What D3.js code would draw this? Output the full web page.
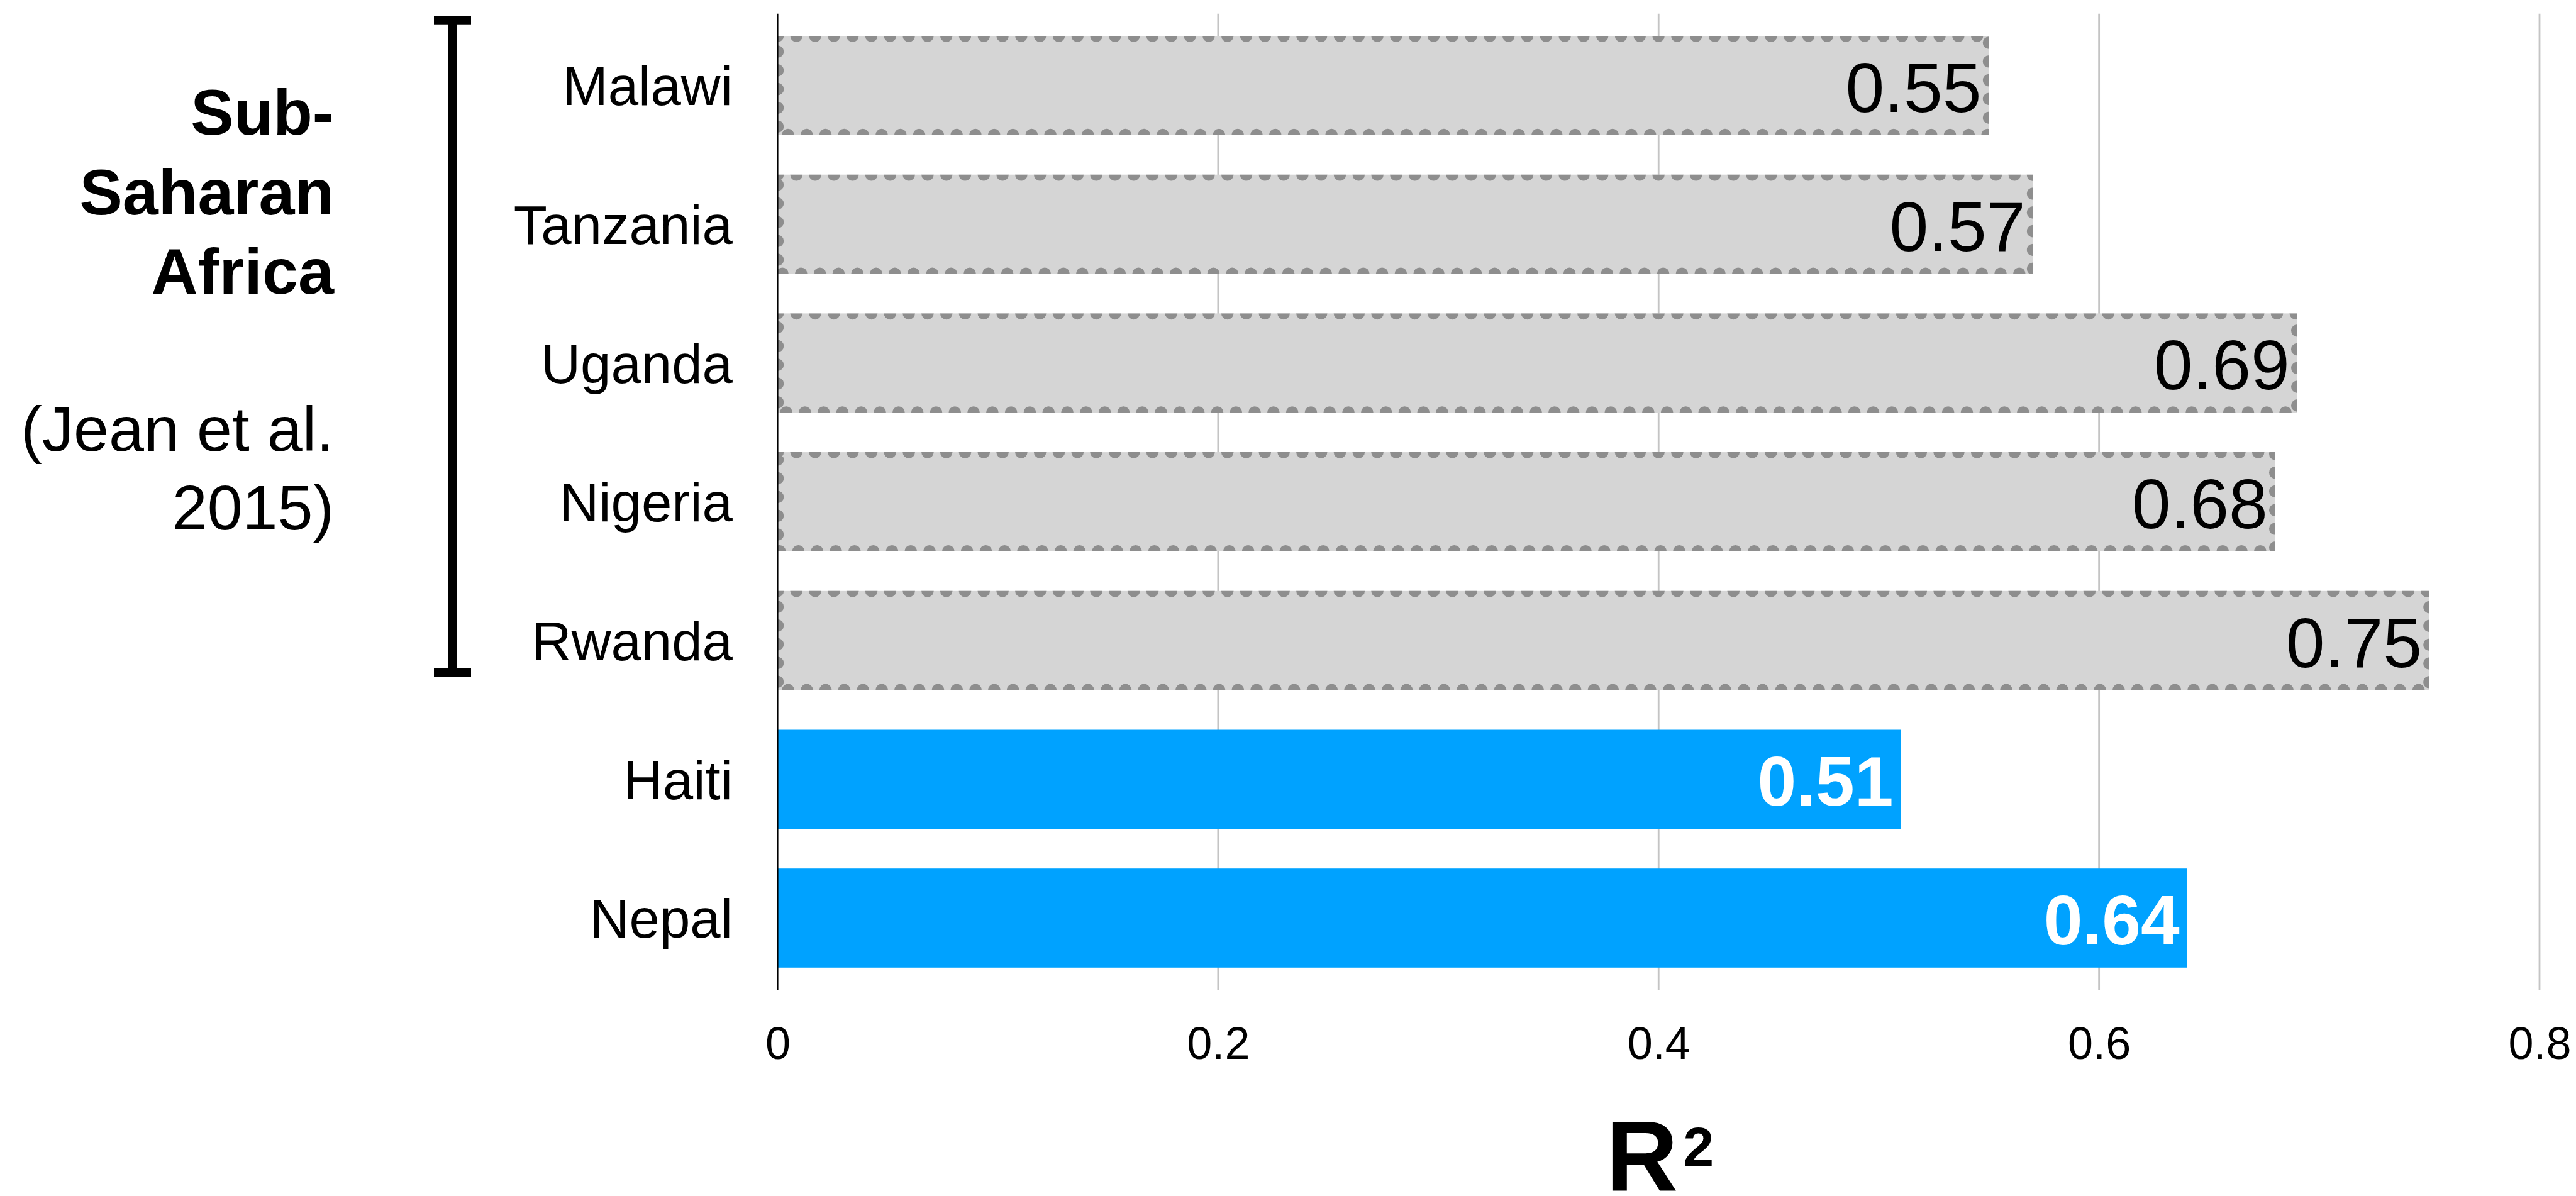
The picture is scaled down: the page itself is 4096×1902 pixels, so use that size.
<!DOCTYPE html>
<html>
<head>
<meta charset="utf-8">
<script src="https://cdn.jsdelivr.net/npm/d3@7"></script>
<style>
  html, body { margin: 0; padding: 0; background: #ffffff; }
  svg { display: block; }
  text { font-family: "Liberation Sans", Arial, Helvetica, sans-serif; }
</style>
</head>
<body>
<script>
// ---- data ----
const categories = ["Malawi", "Tanzania", "Uganda", "Nigeria", "Rwanda", "Haiti", "Nepal"];
const values = [0.55, 0.57, 0.69, 0.68, 0.75, 0.51, 0.64];
const sources = ["prior", "prior", "prior", "prior", "prior", "ours", "ours"];
const valueLabels = ["0.55", "0.57", "0.69", "0.68", "0.75", "0.51", "0.64"];
const xTicks = [0, 0.2, 0.4, 0.6, 0.8];
const groupTitle = ["Sub-", "Saharan", "Africa"];
const groupNote = ["(Jean et al.", "2015)"];
const axisTitleBase = "R";
const axisTitleSup = "2";

// ---- layout ----
const W = 4096, H = 1902;
const plotLeft = 1236.5, plotRight = 4038, plotTop = 21.7, plotBottom = 1574.1;

const svg = d3.select("body").append("svg").attr("width", W).attr("height", H);

const x = d3.scaleLinear().domain([0, 0.8]).range([plotLeft, plotRight]);
const y = d3.scaleBand().domain(categories).range([plotTop, plotBottom])
  .paddingInner(0.286).paddingOuter(0.16);

// gridlines
svg.append("g").selectAll("line").data(xTicks.filter(d => d > 0)).join("line")
  .attr("x1", d => x(d)).attr("x2", d => x(d))
  .attr("y1", plotTop).attr("y2", plotBottom)
  .attr("stroke", "#c4c4c4").attr("stroke-width", 2.8);

// tick labels via axis
const xAxis = d3.axisBottom(x).tickValues(xTicks).tickSize(0).tickFormat(d3.format(""));
const axG = svg.append("g").attr("transform", `translate(0,${plotBottom})`).call(xAxis);
axG.select(".domain").remove();
axG.selectAll("text")
  .attr("y", 1684.1 - plotBottom).attr("dy", 0)
  .attr("font-size", 72).attr("fill", "#000")
  .style("font-family", "'Liberation Sans', Arial, sans-serif");

// bars
const defs = svg.append("defs");
const rows = categories.map((c, i) => ({ c, v: values[i], s: sources[i], lab: valueLabels[i], i }));

rows.forEach(d => {
  defs.append("clipPath").attr("id", "clip" + d.i)
    .append("rect")
    .attr("x", x(0)).attr("y", y(d.c))
    .attr("width", x(d.v) - x(0)).attr("height", y.bandwidth());
});

const barG = svg.append("g");
barG.selectAll("rect.bar").data(rows).join("rect")
  .attr("class", "bar")
  .attr("x", x(0)).attr("y", d => y(d.c))
  .attr("width", d => x(d.v) - x(0)).attr("height", y.bandwidth())
  .attr("fill", d => d.s === "prior" ? "#d5d5d5" : "#00a2ff");

barG.selectAll("rect.dots").data(rows.filter(d => d.s === "prior")).join("rect")
  .attr("class", "dots")
  .attr("x", x(0)).attr("y", d => y(d.c))
  .attr("width", d => x(d.v) - x(0)).attr("height", y.bandwidth())
  .attr("fill", "none")
  .attr("stroke", "#8e8e8e").attr("stroke-width", 19.6)
  .attr("stroke-dasharray", "0 29.8").attr("stroke-linecap", "round")
  .attr("clip-path", d => `url(#clip${d.i})`);

// value labels
barG.selectAll("text.val").data(rows).join("text")
  .attr("class", "val")
  .attr("x", d => x(d.v) - 12)
  .attr("y", d => y(d.c) + y.bandwidth() / 2)
  .attr("dy", "0.38em")
  .attr("text-anchor", "end")
  .attr("font-size", 111)
  .attr("font-weight", d => d.s === "prior" ? "normal" : "bold")
  .attr("fill", d => d.s === "prior" ? "#000" : "#fff")
  .text(d => d.lab);

// y axis line
svg.append("line")
  .attr("x1", plotLeft).attr("x2", plotLeft)
  .attr("y1", plotTop).attr("y2", plotBottom)
  .attr("stroke", "#000").attr("stroke-width", 2.2);

// category labels
svg.append("g").selectAll("text").data(categories).join("text")
  .attr("x", 1165).attr("y", d => y(d) + y.bandwidth() / 2)
  .attr("dy", "0.36em").attr("text-anchor", "end")
  .attr("font-size", 87).attr("fill", "#000")
  .text(d => d);

// bracket
const bx = 719.5, bTop = 32.1, bBot = 1069.7, bHalf = 29.5;
const bracket = svg.append("g").attr("stroke", "#000").attr("stroke-width", 13.4).attr("fill", "none");
bracket.append("line").attr("x1", bx).attr("x2", bx).attr("y1", bTop).attr("y2", bBot);
bracket.append("line").attr("x1", bx - bHalf).attr("x2", bx + bHalf).attr("y1", bTop).attr("y2", bTop);
bracket.append("line").attr("x1", bx - bHalf).attr("x2", bx + bHalf).attr("y1", bBot).attr("y2", bBot);

// group labels
const titleBase = [213.9, 340.8, 467.0];
svg.append("g").selectAll("text").data(groupTitle).join("text")
  .attr("x", 531).attr("y", (d, i) => titleBase[i])
  .attr("text-anchor", "end").attr("font-size", 102.5).attr("font-weight", "bold")
  .attr("fill", "#000").text(d => d);
const noteBase = [716.7, 841.6];
svg.append("g").selectAll("text").data(groupNote).join("text")
  .attr("x", 531).attr("y", (d, i) => noteBase[i])
  .attr("text-anchor", "end").attr("font-size", 100.6)
  .attr("fill", "#000").text(d => d);

// axis title (R with superscript 2)
const title = svg.append("text")
  .attr("x", (plotLeft + plotRight) / 2 + 2).attr("y", 1894)
  .attr("text-anchor", "middle").attr("font-weight", "bold")
  .attr("fill", "#000");
title.append("tspan").attr("font-size", 159).text(axisTitleBase);
title.append("tspan").attr("font-size", 88).attr("dx", 8).attr("dy", -40).text(axisTitleSup);
</script>
</body>
</html>
